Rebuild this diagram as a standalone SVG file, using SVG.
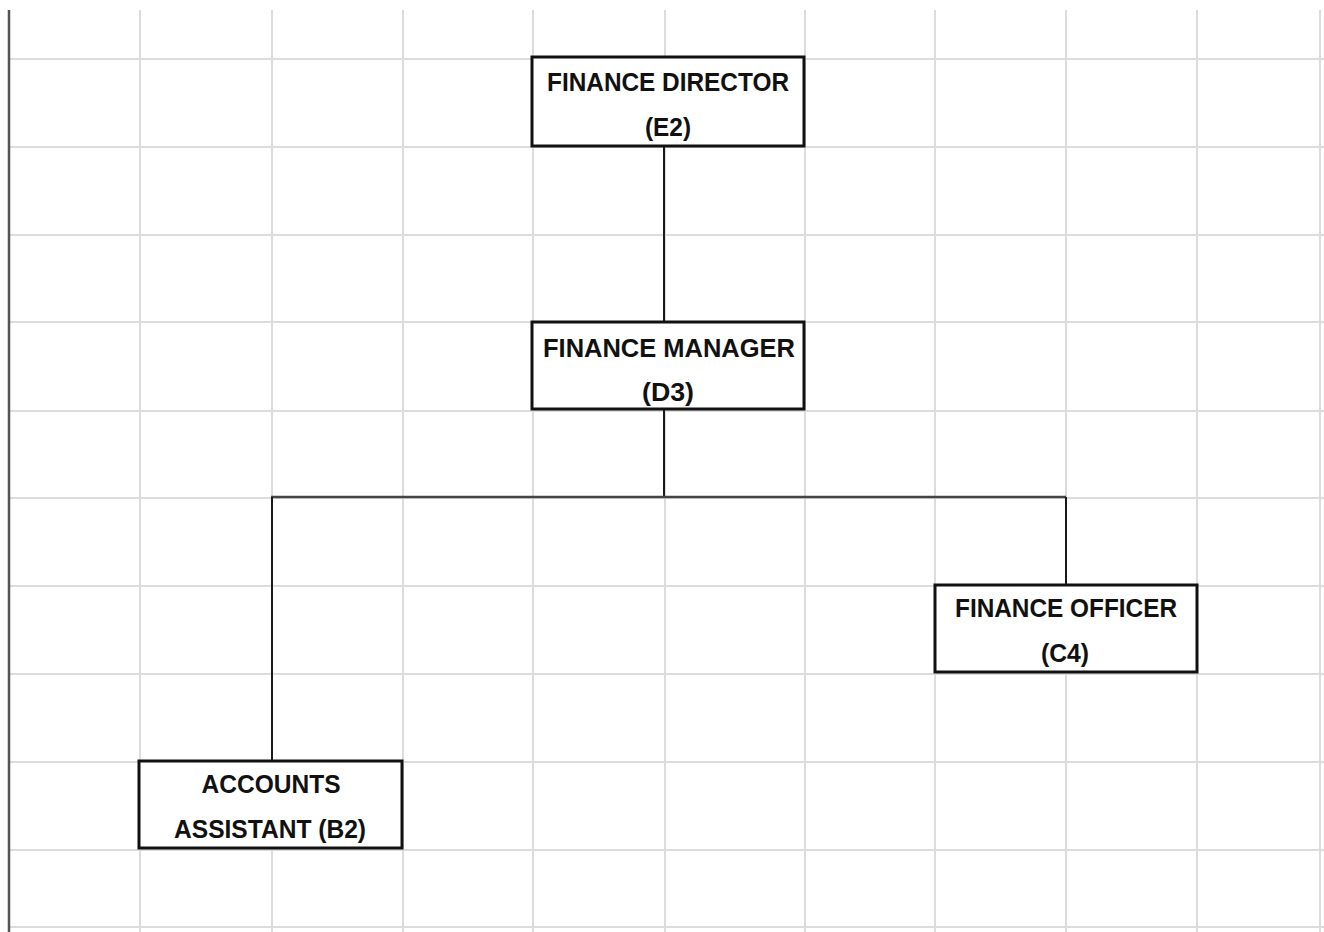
<svg xmlns="http://www.w3.org/2000/svg" width="1324" height="932" viewBox="0 0 1324 932">
<style>
.grid line{stroke:#dcdcdc;stroke-width:2}
.box{fill:#fff;stroke:#111;stroke-width:3}
.conn line{stroke:#1a1a1a;stroke-width:2}
text{font-family:"Liberation Sans",Arial,sans-serif;font-weight:bold;font-size:26px;fill:#111;text-anchor:middle}
</style>
<rect width="1324" height="932" fill="#fff"/>
<g class="grid">
<line x1="140" y1="10" x2="140" y2="932"/>
<line x1="272" y1="10" x2="272" y2="932"/>
<line x1="403" y1="10" x2="403" y2="932"/>
<line x1="533" y1="10" x2="533" y2="932"/>
<line x1="665" y1="10" x2="665" y2="932"/>
<line x1="805" y1="10" x2="805" y2="932"/>
<line x1="935" y1="10" x2="935" y2="932"/>
<line x1="1066" y1="10" x2="1066" y2="932"/>
<line x1="1197" y1="10" x2="1197" y2="932"/>
<line x1="1320" y1="10" x2="1320" y2="932"/>
<line x1="10" y1="59" x2="1324" y2="59"/>
<line x1="10" y1="147" x2="1324" y2="147"/>
<line x1="10" y1="235" x2="1324" y2="235"/>
<line x1="10" y1="322" x2="1324" y2="322"/>
<line x1="10" y1="411" x2="1324" y2="411"/>
<line x1="10" y1="498" x2="1324" y2="498"/>
<line x1="10" y1="586" x2="1324" y2="586"/>
<line x1="10" y1="674" x2="1324" y2="674"/>
<line x1="10" y1="762" x2="1324" y2="762"/>
<line x1="10" y1="850" x2="1324" y2="850"/>
<line x1="10" y1="927" x2="1324" y2="927"/>
</g>
<line x1="9" y1="10" x2="9" y2="932" stroke="#555" stroke-width="2.5"/>
<g class="conn" id="connectors">
<line x1="664" y1="146" x2="664" y2="322"/>
<line x1="664" y1="409" x2="664" y2="497"/>
<line x1="271" y1="497" x2="1066" y2="497" style="stroke:#444;stroke-width:2.5"/>
<line x1="272" y1="497" x2="272" y2="761"/>
<line x1="1066" y1="497" x2="1066" y2="585"/>
</g>
<g id="finance-director">
<rect class="box" x="532" y="57" width="272" height="89"/>
<text x="668" y="91" textLength="242" lengthAdjust="spacingAndGlyphs">FINANCE DIRECTOR</text>
<text x="668" y="136" textLength="46" lengthAdjust="spacingAndGlyphs">(E2)</text>
</g>
<g id="finance-manager">
<rect class="box" x="532" y="322" width="272" height="87"/>
<text x="669" y="357" textLength="252" lengthAdjust="spacingAndGlyphs">FINANCE MANAGER</text>
<text x="668" y="401" textLength="52" lengthAdjust="spacingAndGlyphs">(D3)</text>
</g>
<g id="finance-officer">
<rect class="box" x="935" y="585" width="262" height="87"/>
<text x="1066" y="617" textLength="222" lengthAdjust="spacingAndGlyphs">FINANCE OFFICER</text>
<text x="1065" y="662" textLength="48" lengthAdjust="spacingAndGlyphs">(C4)</text>
</g>
<g id="accounts-assistant">
<rect class="box" x="139" y="761" width="263" height="87"/>
<text x="271" y="793" textLength="139" lengthAdjust="spacingAndGlyphs">ACCOUNTS</text>
<text x="270" y="838" textLength="192" lengthAdjust="spacingAndGlyphs">ASSISTANT (B2)</text>
</g>
</svg>
